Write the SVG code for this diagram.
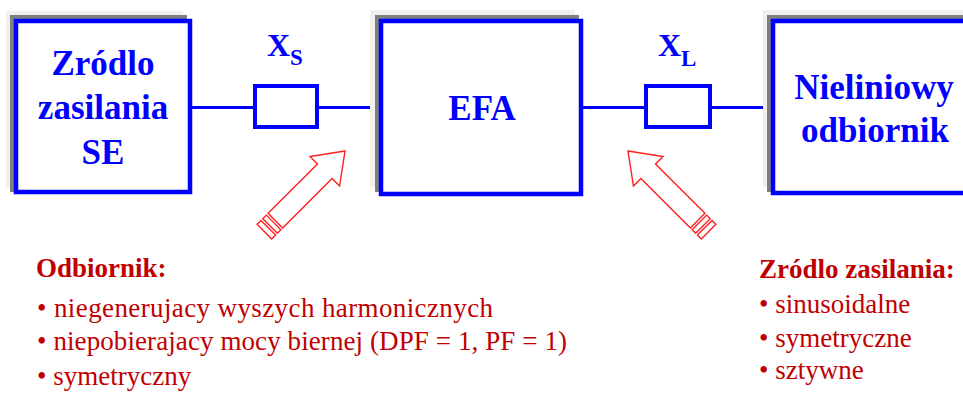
<svg xmlns="http://www.w3.org/2000/svg" width="963" height="394" viewBox="0 0 963 394">
<defs>
<style>
.sh1{fill:#efefef}
.sh2{fill:#7f7f7f}
.box{fill:#fff;stroke:#0000ff;stroke-width:4.5}
.res{fill:#fff;stroke:#0000ff;stroke-width:4}
.wire{stroke:#0000ff;stroke-width:3;fill:none}
.bt{font-family:"Liberation Serif","Times New Roman",serif;font-weight:bold;font-size:35px;fill:#0000ff;text-anchor:middle}
.lab{font-family:"Liberation Serif","Times New Roman",serif;font-weight:bold;font-size:32px;fill:#0000ff}
.hd{font-family:"Liberation Serif","Times New Roman",serif;font-weight:bold;font-size:27px;fill:#c00000}
.tx{font-family:"Liberation Serif","Times New Roman",serif;font-size:27px;fill:#c00000}
.arr{fill:#fff;stroke:#ff2020;stroke-width:1.4;stroke-linejoin:miter}
</style>
<g id="arrowShape">
<path class="arr" d="M0,0 L-28.6,-20.9 L-28.6,-10.3 L-98.5,-10.3 L-98.5,10.3 L-28.6,10.3 L-28.6,20.9 Z"/>
<rect class="arr" x="-106" y="-10.3" width="5" height="20.6"/>
<rect class="arr" x="-114" y="-10.3" width="5.5" height="20.6"/>
</g>
</defs>

<g id="connectors">
<line class="wire" x1="192" y1="107.5" x2="255" y2="107.5"/>
<line class="wire" x1="317" y1="107.5" x2="380" y2="107.5"/>
<line class="wire" x1="582" y1="107.5" x2="646" y2="107.5"/>
<line class="wire" x1="710" y1="107.5" x2="772" y2="107.5"/>
</g>

<g id="source">
<rect class="sh1" x="6" y="11" width="177" height="177"/>
<rect class="sh2" x="10" y="15" width="177" height="177"/>
<rect class="box" x="16" y="21" width="174" height="171"/>
<text class="bt" x="103" y="75">Zródlo</text>
<text class="bt" x="103" y="119">zasilania</text>
<text class="bt" x="103" y="164">SE</text>
</g>

<g id="efa">
<rect class="sh1" x="370" y="10" width="205" height="177"/>
<rect class="sh2" x="375" y="15" width="204" height="177"/>
<rect class="box" x="381" y="21" width="200" height="173"/>
<text class="bt" x="482" y="120">EFA</text>
</g>

<g id="load">
<rect class="sh1" x="763" y="10" width="210" height="177"/>
<rect class="sh2" x="767" y="15" width="210" height="177"/>
<rect class="box" x="773" y="21" width="200" height="172"/>
<text class="bt" x="874" y="99">Nieliniowy</text>
<text class="bt" x="875" y="142">odbiornik</text>
</g>

<g id="xs">
<rect class="res" x="255" y="86" width="62" height="41"/>
<text class="lab" x="267" y="56">X<tspan font-size="23" dy="9">S</tspan></text>
</g>

<g id="xl">
<rect class="res" x="646" y="86" width="64" height="41"/>
<text class="lab" x="658" y="56">X<tspan font-size="23" dy="10">L</tspan></text>
</g>

<g id="arrow-left">
<use href="#arrowShape" transform="translate(345,151) rotate(-45)"/>
</g>
<g id="arrow-right">
<use href="#arrowShape" transform="translate(973,0) scale(-1,1) translate(345,151) rotate(-45)"/>
</g>

<g id="notes-load">
<text class="hd" x="36" y="277">Odbiornik:</text>
<text class="tx" x="37" y="317" textLength="456">• niegenerujacy wyszych harmonicznych</text>
<text class="tx" x="37" y="350" textLength="530">• niepobierajacy mocy biernej (DPF = 1, PF = 1)</text>
<text class="tx" x="37" y="385">• symetryczny</text>
</g>

<g id="notes-source">
<text class="hd" x="759" y="278">Zródlo zasilania:</text>
<text class="tx" x="759" y="313">• sinusoidalne</text>
<text class="tx" x="759" y="347">• symetryczne</text>
<text class="tx" x="759" y="379">• sztywne</text>
</g>
</svg>
